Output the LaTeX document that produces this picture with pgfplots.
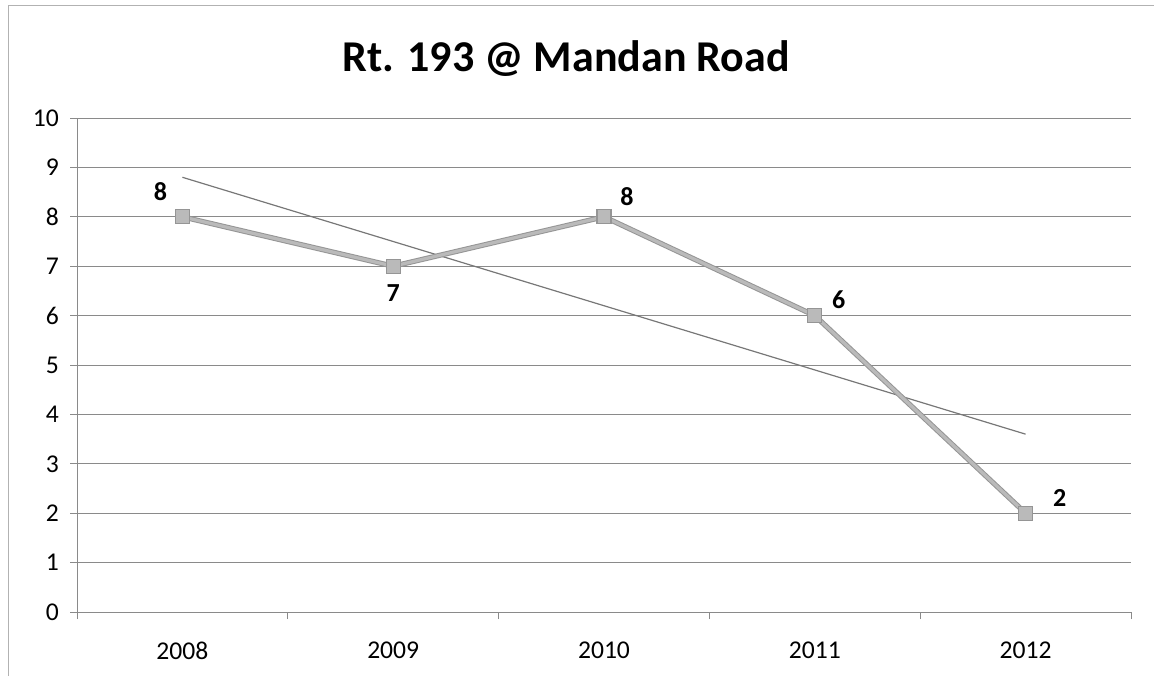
\documentclass[border=0pt]{standalone}
\usepackage{fontspec}
\setmainfont{Carlito}
\usepackage{pgfplots}
\usepackage{pgfplotstable}
\pgfplotsset{compat=1.18}
\definecolor{gridc}{HTML}{8A8A8A}
\definecolor{lineout}{HTML}{959595}
\definecolor{linein}{HTML}{BABABA}
\definecolor{trendc}{HTML}{777777}
\pgfplotstableread{
x y lab dx dy
0 8 8 -11 12.5
1 7 7 0 -13.5
2 8 8 11.5 10
3 6 6 12 8
4 2 2 17 7.5
}\datatab
\pgfplotstableread{
x y
0 8.8
4 3.6
}\trendtab
\begin{document}
\begin{tikzpicture}
\useasboundingbox (0,0) rectangle (577pt,338pt);
\draw[color=gray!60, line width=0.5pt] (4pt,0pt) -- (4pt,335pt) -- (577pt,335pt);
\node[font=\fontsize{22}{26}\selectfont\bfseries, anchor=base] at (283pt,302pt) {Rt. 193 @ Mandan Road};
\begin{axis}[
  at={(38.5pt,32pt)}, anchor=south west,
  scale only axis, width=527pt, height=247pt,
  xmin=-0.5, xmax=4.5, ymin=0, ymax=10,
  axis lines=left, axis line style={-, draw=gridc, line width=0.5pt},
  xtick={-0.5,0.5,1.5,2.5,3.5,4.5},
  x tick label as interval,
  xticklabels={2008,2009,2010,2011,2012},
  ytick={0,1,...,10},
  tick align=outside,
  tick style={draw=gridc, line width=0.5pt},
  major tick length=3.5pt,
  ymajorgrids, xmajorgrids=false, grid style={draw=gridc, line width=0.5pt},
  /pgf/number format/assume math mode=true,
  tick label style={font=\fontsize{12.8}{15}\selectfont},
  yticklabel style={xshift=-2pt},
  xticklabel style={yshift=-8pt},
  clip=false,
]
\addplot[trendc, line width=0.6pt] table[x=x, y=y] {\trendtab};
\addplot[lineout, line width=2.6pt, mark=none] table[x=x, y=y] {\datatab};
\addplot[linein, line width=1.6pt, mark=square*, mark size=3.5pt,
  mark options={fill=linein, draw=lineout, line width=0.6pt}] table[x=x, y=y] {\datatab};
\addplot[draw=none, mark=none,
  visualization depends on={\thisrow{dx} \as \dx},
  visualization depends on={\thisrow{dy} \as \dy},
  point meta=explicit symbolic,
  nodes near coords,
  nodes near coords style={anchor=center, xshift=\dx pt, yshift=\dy pt,
    font=\fontsize{13}{15}\selectfont\bfseries, text=black}]
  table[x=x, y=y, meta=lab] {\datatab};
\end{axis}
\end{tikzpicture}
\end{document}
